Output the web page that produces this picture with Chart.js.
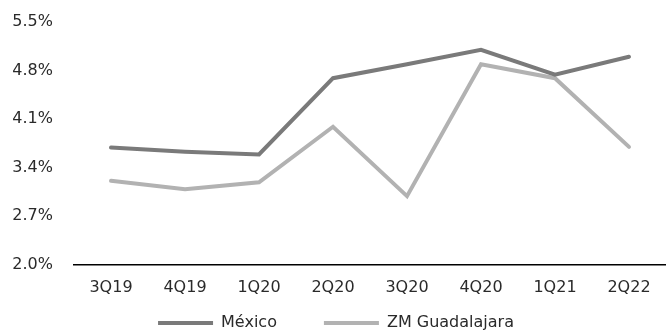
<!DOCTYPE html>
<html>
<head>
<meta charset="utf-8">
<script src="https://cdn.jsdelivr.net/npm/chart.js@4"></script>
<style>
  html, body { margin: 0; padding: 0; background: #fff; }
  #wrap { width: 666px; height: 335px; }
</style>
</head>
<body>
<div id="wrap"><canvas id="myLineChart"></canvas></div>
<script>
var quarters = ['3Q19', '4Q19', '1Q20', '2Q20', '3Q20', '4Q20', '1Q21', '2Q22'];
var mexico = [3.69, 3.63, 3.59, 4.69, 4.89, 5.10, 4.74, 5.00];
var guadalajara = [3.21, 3.09, 3.19, 3.99, 2.99, 4.89, 4.69, 3.70];
var seriesNames = ['México', 'ZM Guadalajara'];
var seriesColors = ['#7a7a7a', '#b2b2b2'];

// legend items are spaced wide apart, so pull the legend box back up under the axis labels
var legendShift = {
    id: 'legendShift',
    afterLayout: function(chart) {
        chart.legend.top -= 42;
        chart.legend.bottom -= 42;
    }
};

document.addEventListener("DOMContentLoaded", function() {
    Chart.defaults.font.family = "'DejaVu Sans', sans-serif";
    Chart.defaults.color = '#2a2a2a';
    var ctx = document.getElementById('myLineChart').getContext('2d');
    var myLineChart = new Chart(ctx, {
        type: 'line',
        data: {
            labels: quarters,
            datasets: [{
                label: seriesNames[0],
                data: mexico,
                borderColor: seriesColors[0],
                backgroundColor: seriesColors[0],
                borderWidth: 4,
                borderCapStyle: 'round',
                pointRadius: 0,
                tension: 0
            }, {
                label: seriesNames[1],
                data: guadalajara,
                borderColor: seriesColors[1],
                backgroundColor: seriesColors[1],
                borderWidth: 4,
                borderCapStyle: 'round',
                pointRadius: 0,
                tension: 0
            }]
        },
        plugins: [legendShift],
        options: {
            responsive: true,
            maintainAspectRatio: false,
            animation: false,
            layout: { padding: { left: 6, right: 0, top: 22, bottom: -48 } },
            scales: {
                x: {
                    offset: true,
                    grid: { display: false, drawTicks: false },
                    border: { display: true, color: '#000', width: 1.5 },
                    ticks: { font: { size: 16 }, padding: 13, maxRotation: 0, autoSkip: false }
                },
                y: {
                    min: 2.0,
                    max: 5.5,
                    grid: { display: false, drawTicks: false },
                    border: { display: false },
                    afterFit: function(scale) {
                        scale.width = 68;
                        scale.paddingTop = 0;
                    },
                    ticks: {
                        stepSize: 0.7,
                        font: { size: 16 },
                        padding: 21,
                        callback: function(value) {
                            return value.toFixed(1) + '%';
                        }
                    }
                }
            },
            plugins: {
                legend: {
                    position: 'bottom',
                    labels: {
                        usePointStyle: true,
                        pointStyle: 'line',
                        pointStyleWidth: 55,
                        padding: 47,
                        font: { size: 16 }
                    }
                },
                tooltip: { enabled: false }
            }
        }
    });
});
</script>
</body>
</html>
